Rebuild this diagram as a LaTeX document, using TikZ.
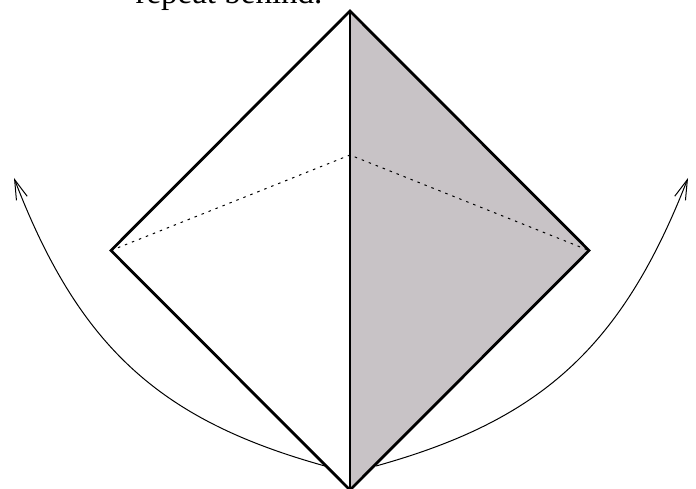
\documentclass[tikz,border=0pt]{standalone}
\usepackage{fontspec}
\setmainfont{Liberation Serif}
\usetikzlibrary{arrows.meta}
\definecolor{facegray}{HTML}{C8C3C6}

\begin{document}
\begin{tikzpicture}[
        x=1pt, y=-1pt,
        label/.style={font=\fontsize{33}{33}\selectfont, anchor=base, inner sep=0pt},
        edge/.style={line width=2.8pt, line join=miter},
        hidden/.style={line width=1pt, dash pattern=on 2.5pt off 5pt},
        arr/.style={-{Straight Barb[length=20pt, width=11.5pt, line width=1pt]}, line width=1pt}]
    \useasboundingbox (0,0) rectangle (696,489);
    \clip (0,0) rectangle (696,489);
    \node[label] (caption) at (229,4) {repeat behind.};
    \coordinate (top) at (350,11);
    \coordinate (bottom) at (350,490);
    \coordinate (left) at (111,250.5);
    \coordinate (right) at (589,250.5);
    \coordinate (back) at (350,155);
    \coordinate (lstart) at (325,466);
    \coordinate (lend) at (14,178);
    \coordinate (rstart) at (376,466);
    \coordinate (rend) at (688,178);
    \fill[facegray] (top) -- (right) -- (bottom) -- cycle;
    \draw[hidden] (left) -- (back) -- (right);
    \draw[edge] (top) -- (left) -- (bottom) -- (right) -- cycle;
    \draw[edge] (top) -- (bottom);
    \draw[arr] (lstart) .. controls (163,421) and (80,350) .. (lend);
    \draw[arr] (rstart) .. controls (538,421) and (621,350) .. (rend);
\end{tikzpicture}
\end{document}
